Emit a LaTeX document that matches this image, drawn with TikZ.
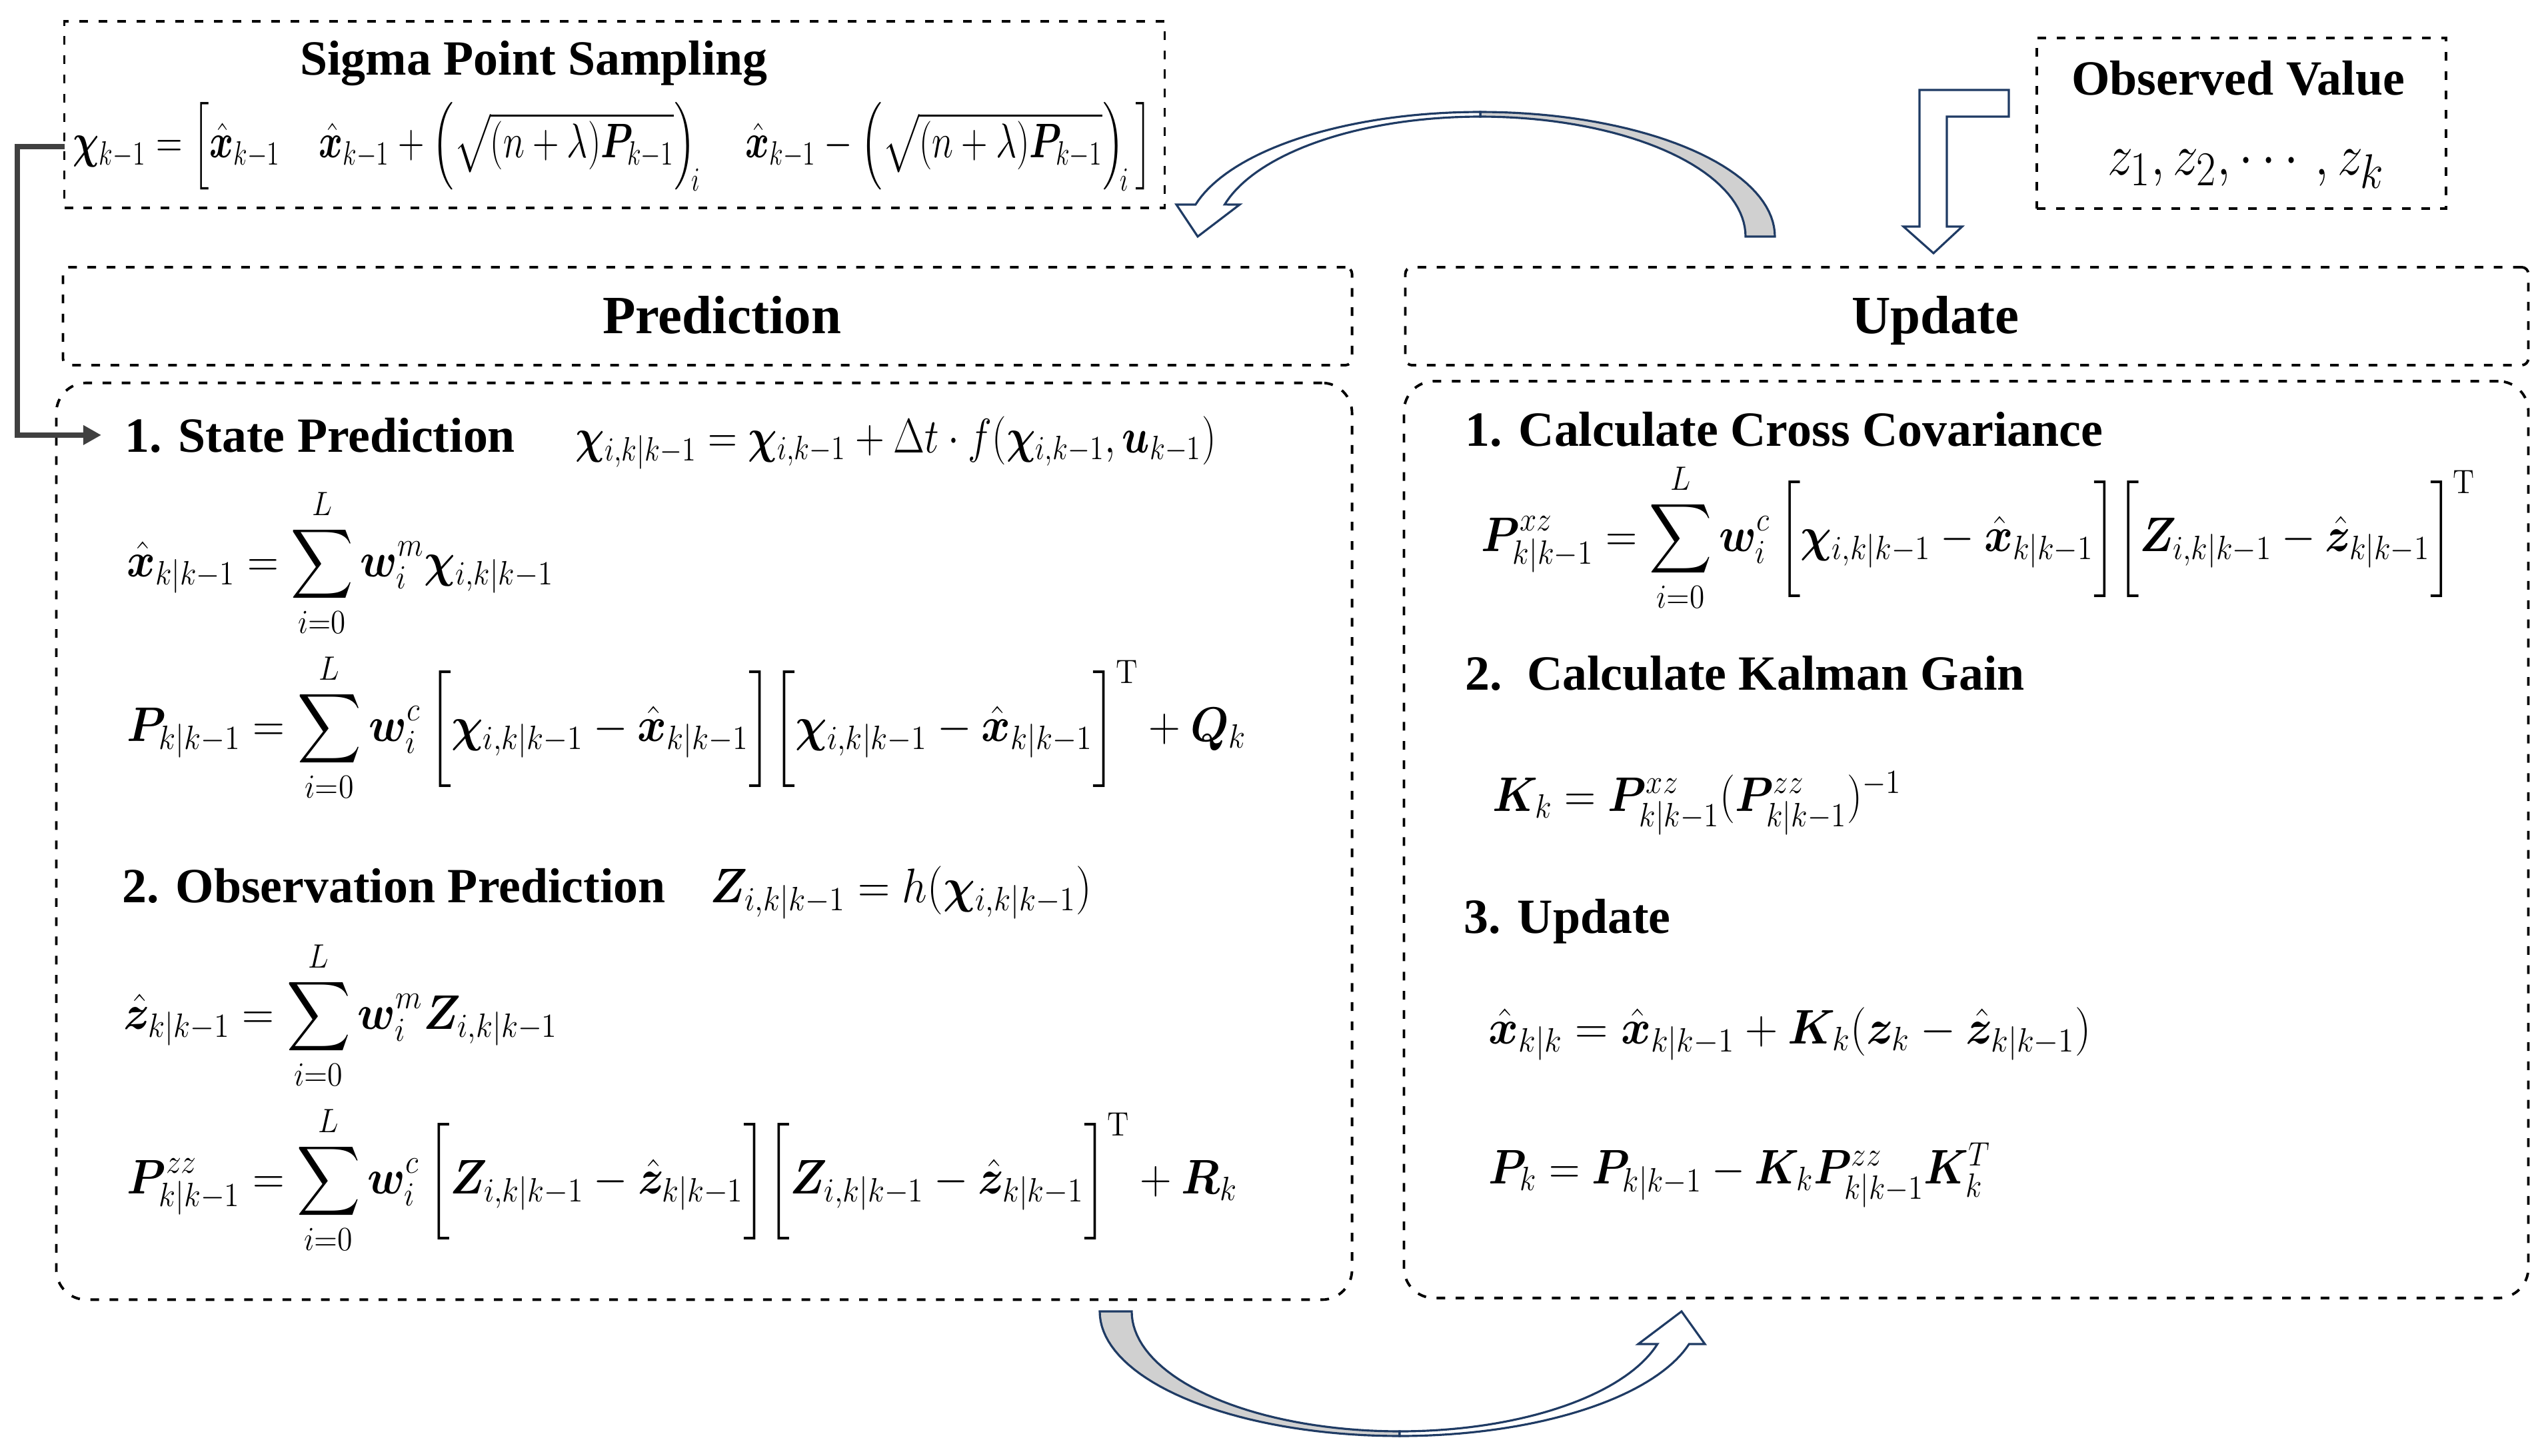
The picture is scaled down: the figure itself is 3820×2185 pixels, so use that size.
\documentclass[tikz,border=0pt]{standalone}
\usepackage{amsmath}
\usepackage{bm}
\usepackage[no-math]{fontspec}
\setmainfont{Liberation Serif}
\usetikzlibrary{arrows.meta}
\definecolor{navy}{HTML}{1F3B64}
\definecolor{arrgray}{HTML}{D0D0D0}
\definecolor{conngray}{HTML}{404040}
\newcommand{\hx}{\hat{\bm{x}}}
\newcommand{\hz}{\hat{\bm{z}}}
\newcommand{\bchi}{\bm{\chi}}
\newcommand{\kkm}{k|k-1}
\newcommand{\sqz}[2]{\scalebox{#1}[1]{#2}}
\begin{document}
\begin{tikzpicture}[x=0.01cm,y=-0.01cm,
  dbox/.style={draw, line width=1.1pt, dash pattern=on 3.7pt off 4.5pt, inner sep=0pt},
  ttl/.style={font=\fontsize{21}{25}\selectfont\bfseries, inner sep=0pt},
  hdr/.style={font=\fontsize{23}{27}\selectfont\bfseries, inner sep=0pt, anchor=base},
  eq/.style={font=\fontsize{22}{26}\selectfont, inner sep=0pt, anchor=base west},
  blk/.style={draw=navy, line width=0.9pt, line join=miter},
  conn/.style={draw=conngray, line width=2.3pt, -{Triangle[length=0.27cm,width=0.28cm]}}
]
\useasboundingbox (0,0) rectangle (3820,2185);
\fill[white] (0,0) rectangle (3820,2185);

% boxes
\node[dbox, minimum width=16.5cm, minimum height=2.8cm] (sigbox) at (922,172) {};
\node[dbox, minimum width=6.14cm, minimum height=2.56cm] (obsbox) at (3363,185) {};
\node[dbox, rounded corners=0.1cm, minimum width=19.33cm, minimum height=1.47cm] (predhead) at (1061.5,474.5) {};
\node[dbox, rounded corners=0.1cm, minimum width=16.84cm, minimum height=1.47cm] (updhead) at (2951,474.5) {};
\node[dbox, rounded corners=0.45cm, minimum width=19.43cm, minimum height=13.75cm] (predbody) at (1056.5,1262.5) {};
\node[dbox, rounded corners=0.45cm, minimum width=16.86cm, minimum height=13.75cm] (updbody) at (2950,1260) {};

% titles
\node[ttl, anchor=base] (sigttl) at (801,113) {Sigma Point Sampling};
\node[ttl, anchor=base] (obsttl) at (3358,143) {Observed Value};
\node[hdr] (predttl) at (1083,500) {Prediction};
\node[hdr] (updttl) at (2904,500) {Update};
\node[ttl, anchor=base west] (sp) at (187,678) {1. State Prediction};
\node[ttl, anchor=base west] (op) at (183,1354) {2. Observation Prediction};
\node[ttl, anchor=base west] (cc) at (2198,669) {1. Calculate Cross Covariance};
\node[ttl, anchor=base west] (kg) at (2198,1035) {2.\ \ Calculate Kalman Gain};
\node[ttl, anchor=base west] (up) at (2196,1400) {3. Update};

% observed values
\node[font=\fontsize{30}{34}\selectfont, inner sep=0pt, anchor=base] (zs) at (3370,262) {\sqz{0.87}{$z_1, z_2, \cdots, z_k$}};

% formulas
\node[eq] (sigeq) at (109,237) {\sqz{0.75}{$\bchi_{k-1} = \left[\hx_{k-1}\quad \hx_{k-1} + \left(\sqrt{(n+\lambda)\bm{P}_{k-1}}\right)_{\!i}\quad \hx_{k-1} - \left(\sqrt{(n+\lambda)\bm{P}_{k-1}}\right)_{\!i}\,\right]$}};
\node[eq] (speq) at (863,679) {\sqz{0.833}{$\bchi_{i,\kkm} = \bchi_{i,k-1} + \Delta t\cdot f(\bchi_{i,k-1},\bm{u}_{k-1})$}};
\node[eq] (xeq) at (190,865) {\sqz{0.89}{$\displaystyle \hx_{\kkm} = \sum_{i=0}^{L}\bm{w}_i^{m}\bchi_{i,\kkm}$}};
\node[eq] (peq) at (190,1112) {\sqz{0.91}{$\displaystyle \bm{P}_{\kkm} = \sum_{i=0}^{L}\bm{w}_i^{c}\,\bigg[\bchi_{i,\kkm}-\hx_{\kkm}\bigg]\bigg[\bchi_{i,\kkm}-\hx_{\kkm}\bigg]^{\mathrm{T}}+\bm{Q}_k$}};
\node[eq] (opeq) at (1065,1354) {\sqz{0.915}{$\bm{Z}_{i,\kkm} = h(\bchi_{i,\kkm})$}};
\node[eq] (zeq) at (185,1544) {\sqz{0.91}{$\displaystyle \hz_{\kkm} = \sum_{i=0}^{L}\bm{w}_i^{m}\bm{Z}_{i,\kkm}$}};
\node[eq] (pzzeq) at (190,1791) {\sqz{0.906}{$\displaystyle \bm{P}^{zz}_{\kkm} = \sum_{i=0}^{L}\bm{w}_i^{c}\,\bigg[\bm{Z}_{i,\kkm}-\hz_{\kkm}\bigg]\bigg[\bm{Z}_{i,\kkm}-\hz_{\kkm}\bigg]^{\mathrm{T}}+\bm{R}_k$}};
\node[eq] (pxzeq) at (2222,827) {\sqz{0.896}{$\displaystyle \bm{P}^{xz}_{\kkm} = \sum_{i=0}^{L}\bm{w}_i^{c}\,\bigg[\bchi_{i,\kkm}-\hx_{\kkm}\bigg]\bigg[\bm{Z}_{i,\kkm}-\hz_{\kkm}\bigg]^{\mathrm{T}}$}};
\node[eq] (keq) at (2239,1217) {\sqz{0.894}{$\bm{K}_k = \bm{P}^{xz}_{\kkm}(\bm{P}^{zz}_{\kkm})^{-1}$}};
\node[eq] (xueq) at (2233,1566) {\sqz{0.936}{$\hx_{k|k} = \hx_{\kkm} + \bm{K}_k(\bm{z}_k - \hz_{\kkm})$}};
\node[eq] (pkeq) at (2233,1776) {\sqz{0.883}{$\bm{P}_k = \bm{P}_{\kkm} - \bm{K}_k\bm{P}^{zz}_{\kkm}\bm{K}_k^{T}$}};

% left connector
\coordinate (cl) at (26,0);
\draw[conn, shorten <=0.12cm, shorten >=0.35cm] (sigeq.west) -- (sigeq.west -| cl) |- (sp.west);

% top curved arrow (Update -> Sigma)
\filldraw[blk, fill=arrgray] plot[domain=0:90,samples=40] ({2221+442*cos(\x)},{355-187*sin(\x)})
  -- plot[domain=90:0,samples=40] ({2221+398*cos(\x)},{355-180*sin(\x)}) -- cycle;
\filldraw[blk, fill=white] plot[domain=90:165.1,samples=40] ({2221+442*cos(\x)},{355-187*sin(\x)})
  -- (1765,307) -- (1797,355) -- (1860,307)
  -- plot[domain=164.5:90,samples=40] ({2221+398*cos(\x)},{355-180*sin(\x)}) -- cycle;

% bottom curved arrow (Prediction -> Update)
\filldraw[blk, fill=arrgray] plot[domain=0:90,samples=40] ({2100-450*cos(\x)},{1968+187*sin(\x)})
  -- plot[domain=90:0,samples=40] ({2100-402*cos(\x)},{1968+180*sin(\x)}) -- cycle;
\filldraw[blk, fill=white] plot[domain=90:164.8,samples=40] ({2100-450*cos(\x)},{1968+187*sin(\x)})
  -- (2558,2017) -- (2523,1968) -- (2458,2017)
  -- plot[domain=164.2:90,samples=40] ({2100-402*cos(\x)},{1968+180*sin(\x)}) -- cycle;

% observed bent arrow
\filldraw[blk, fill=white] (3014,135) -- (2880,135) -- (2880,340) -- (2856,340) -- (2901,380)
  -- (2944,340) -- (2921,340) -- (2921,175) -- (3014,175) -- cycle;
\end{tikzpicture}
\end{document}
